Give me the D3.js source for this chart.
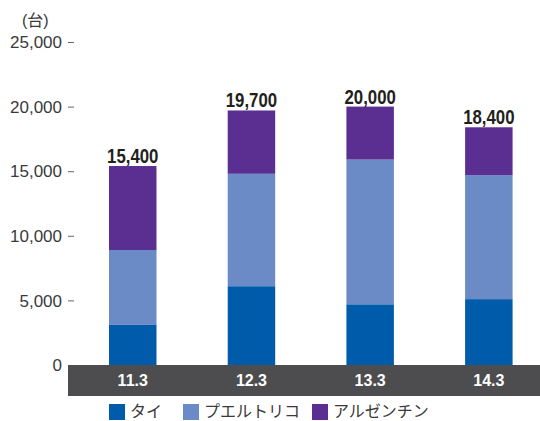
<!DOCTYPE html>
<html>
<head>
<meta charset="utf-8">
<script src="https://cdn.jsdelivr.net/npm/d3@7"></script>
<style>
  body { margin: 0; background: #fff; }
  svg { display: block; }
</style>
</head>
<body>
<svg id="chart" width="540" height="421"></svg>
<script>
// chart values
let categories = ['11.3', '12.3', '13.3', '14.3']
let seriesNames = ['タイ', 'プエルトリコ', 'アルゼンチン']
let thai = [3100, 6100, 4700, 5100]
let puertoRico = [5800, 8700, 11200, 9600]
let argentina = [6500, 4900, 4100, 3700]
let totals = [15400, 19700, 20000, 18400]
let yTicks = [0, 5000, 10000, 15000, 20000, 25000]
let colors = ['#005bab', '#6b8bc6', '#5b2f91']

let svg = d3.select('#chart')
let fontJa = "'Noto Sans CJK JP', 'Noto Sans', sans-serif"
let fontLat = "'Liberation Sans', Arial, sans-serif"

let rows = categories.map((c, i) => {
    return { cat: c, 'タイ': thai[i], 'プエルトリコ': puertoRico[i], 'アルゼンチン': argentina[i], total: totals[i] }
})

// step ~118.7px, bar ~48px, first bar starts at x=109
let x = d3.scaleBand().domain(categories).range([73.4, 548.2]).paddingInner(0.6).paddingOuter(0.3)
let y = d3.scaleLinear().domain([0, 25000]).range([365, 42])

// gray band under the bars
svg.append('rect')
    .attr('x', 68).attr('y', y(0))
    .attr('width', 540 - 68).attr('height', 31)
    .attr('fill', '#4d4d4f')

// y axis labels + dashes
let yAxis = svg.append('g')
yTicks.forEach((t) => {
    yAxis.append('text')
        .attr('x', 62).attr('y', y(t))
        .attr('dy', '0.36em')
        .attr('text-anchor', 'end')
        .attr('font-family', fontLat)
        .attr('font-size', 17)
        .attr('fill', '#3a3a3a')
        .text(d3.format(',')(t))
    if (t > 0) {
        yAxis.append('line')
            .attr('x1', 68).attr('x2', 74)
            .attr('y1', y(t) + 0.5).attr('y2', y(t) + 0.5)
            .attr('stroke', '#666').attr('stroke-width', 1)
    }
})

// unit
svg.append('text')
    .attr('x', 22).attr('y', 26)
    .attr('font-family', "'Liberation Sans', 'Noto Sans CJK JP', sans-serif")
    .attr('font-size', 16)
    .attr('fill', '#3a3a3a')
    .text('(台)')

// stacked bars
let stacked = d3.stack().keys(seriesNames)(rows)
svg.append('g').selectAll('g')
    .data(stacked)
    .enter()
    .append('g')
    .attr('fill', (d, i) => colors[i])
    .selectAll('rect')
    .data((d) => d)
    .enter()
    .append('rect')
    .attr('x', (d) => x(d.data.cat))
    .attr('y', (d) => y(d[1]))
    .attr('width', x.bandwidth())
    .attr('height', (d) => y(d[0]) - y(d[1]))

// totals (condensed look via horizontal scale)
svg.append('g').selectAll('text')
    .data(rows)
    .enter()
    .append('text')
    .attr('transform', (d) => 'translate(' + (x(d.cat) + x.bandwidth() / 2) + ',' + (y(d.total) - 3) + ') scale(0.8,1)')
    .attr('text-anchor', 'middle')
    .attr('font-family', fontLat)
    .attr('font-weight', 'bold')
    .attr('font-size', 21)
    .attr('fill', '#231f20')
    .text((d) => d3.format(',')(d.total))

// category labels
svg.append('g').selectAll('text')
    .data(categories)
    .enter()
    .append('text')
    .attr('x', (d) => x(d) + x.bandwidth() / 2)
    .attr('y', 386)
    .attr('text-anchor', 'middle')
    .attr('font-family', fontLat)
    .attr('font-weight', 'bold')
    .attr('font-size', 16)
    .attr('fill', '#fff')
    .text((d) => d)

// legend
let legendX = [109, 183, 312]
let legend = svg.append('g')
seriesNames.forEach((name, i) => {
    legend.append('rect')
        .attr('x', legendX[i]).attr('y', 404)
        .attr('width', 16).attr('height', 16)
        .attr('fill', colors[i])
    legend.append('text')
        .attr('x', legendX[i] + 21).attr('y', 417)
        .attr('font-family', fontJa)
        .attr('font-size', 16)
        .attr('fill', '#3a3a3a')
        .text(name)
})
</script>
</body>
</html>
